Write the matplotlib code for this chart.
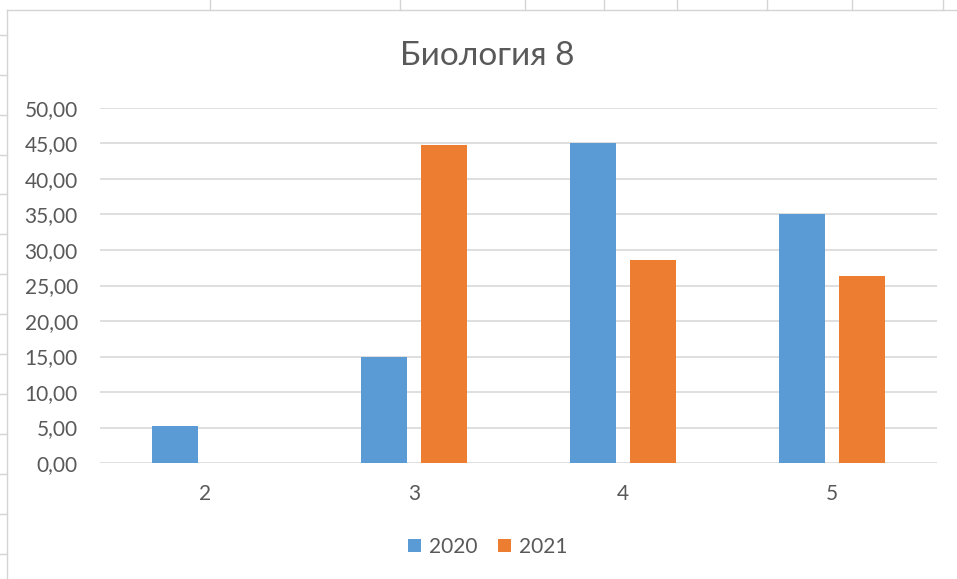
import numpy as np
import matplotlib.pyplot as plt
from matplotlib.lines import Line2D

plt.rcParams['font.family'] = ['Lato', 'DejaVu Sans']

categories = ['2', '3', '4', '5']
series_names = ['2020', '2021']
values_2020 = [5.2, 15.0, 45.0, 35.0]
values_2021 = [0.0, 44.8, 28.6, 26.3]
yticks = [0, 5, 10, 15, 20, 25, 30, 35, 40, 45, 50]

blue = '#5B9BD5'
orange = '#ED7D31'
grey_text = '#595959'

fig = plt.figure(figsize=(9.57, 5.79), dpi=100)
ax = fig.add_axes([0.1045, 0.2003, 0.8745, 0.6132])

x = np.arange(len(categories))
w = 0.22
ax.bar(x - 0.143, values_2020, w, color=blue, label=series_names[0], zorder=3)
ax.bar(x + 0.143, values_2021, w, color=orange, label=series_names[1], zorder=3)

ax.set_xlim(-0.5, len(categories) - 0.5)
ax.set_ylim(0, 50)
ax.set_yticks(yticks)
ax.set_yticklabels([f'{v:.2f}'.replace('.', ',') for v in yticks])
ax.set_xticks(x)
ax.set_xticklabels(categories)
ax.tick_params(axis='both', length=0, labelsize=15, colors=grey_text)
ax.tick_params(axis='y', pad=16)
ax.tick_params(axis='x', pad=15)
ax.yaxis.grid(True, color='#d9d9d9', linewidth=1.2, zorder=0)
for s in ax.spines.values():
    s.set_visible(False)

fig.text(0.509, 0.903, 'Биология 8', ha='center', va='center', fontsize=24, color=grey_text)

leg = fig.legend(loc='center', bbox_to_anchor=(0.51, 0.055), ncol=2, frameon=False,
                 fontsize=15, handlelength=0.6, handleheight=0.6, handletextpad=0.4,
                 columnspacing=1.0)
for t in leg.get_texts():
    t.set_color(grey_text)

# spreadsheet cell borders around the chart
W, H = 957, 579
def fline(xs, ys):
    fig.add_artist(Line2D([v / W for v in xs], [1 - v / H for v in ys],
                          color='#d4d4d4', linewidth=1.0))

fline([7, W], [10, 10])
fline([7, 7], [10, H])
for cx in [210, 400, 525, 604, 677, 767, 852, 943]:
    fline([cx, cx], [0, 10])
for ry in [35, 75, 115, 155, 194, 234, 274, 314, 354, 394, 434, 474, 514, 554]:
    fline([0, 7], [ry, ry])

fig.savefig('out.png', dpi=100)
